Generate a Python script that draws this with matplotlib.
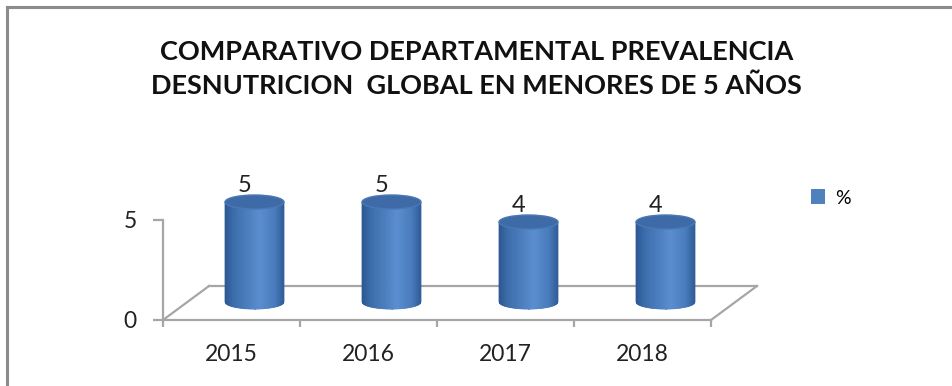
import numpy as np
import matplotlib
matplotlib.use("Agg")
import matplotlib.pyplot as plt
from matplotlib.colors import LinearSegmentedColormap
from matplotlib.patches import Polygon, Ellipse, Patch
from matplotlib.lines import Line2D
from matplotlib.transforms import IdentityTransform

plt.rcParams['font.family'] = ['Lato', 'DejaVu Sans']

# data
years = ['2015', '2016', '2017', '2018']
prevalence = [5, 5, 4, 4]
series_name = '%'
title = 'COMPARATIVO DEPARTAMENTAL PREVALENCIA\nDESNUTRICION  GLOBAL EN MENORES DE 5 AÑOS'

# look
grid_grey = '#A6A6A6'
frame_grey = '#8C8C8C'
depth = (46, 34)        # floor depth in pixels (right, up)
mid = (23, 18)          # bar sits halfway into the floor
ry = 7                  # vertical half-axis of the cylinder ellipses
bar_width = 0.43
shade = LinearSegmentedColormap.from_list(
    'cyl', [(0, '#2B5892'), (0.15, '#3C6DAB'), (0.6, '#5B8ED0'),
            (0.85, '#4A7CBD'), (1, '#2F5E98')])

fig = plt.figure(figsize=(9.53, 3.86), dpi=100)
ax = fig.add_axes([163 / 953, 66 / 386, 548 / 953, 100 / 386])
ax.set_xlim(-0.5, len(years) - 0.5)
ax.set_ylim(0, 5)

for s in ['top', 'right']:
    ax.spines[s].set_visible(False)
for s in ['left', 'bottom']:
    ax.spines[s].set_color(grid_grey)
    ax.spines[s].set_linewidth(1.6)

ax.set_yticks([0, 5])
ax.tick_params(axis='y', direction='out', length=7, width=1.6, color=grid_grey,
               labelsize=16.5, pad=12, labelcolor='#222222')
ax.set_xticks(np.arange(len(years) + 1) - 0.5)
ax.set_xticklabels([])
ax.set_xticks(np.arange(len(years)), minor=True)
ax.set_xticklabels(years, minor=True)
ax.tick_params(axis='x', which='major', direction='out', length=5, width=1.6, color=grid_grey)
ax.tick_params(axis='x', which='minor', length=0, labelsize=16.5, pad=17, labelcolor='#222222')

ident = IdentityTransform()
T = ax.transData.transform

# floor outline (back and side edges)
fl = T((-0.5, 0))
fr = T((len(years) - 0.5, 0))
bl = fl + depth
br = fr + depth
for p0, p1 in [(fl, bl), (bl, br), (br, fr)]:
    ax.add_line(Line2D([p0[0], p1[0]], [p0[1], p1[1]], transform=ident,
                       color=grid_grey, lw=1.6, clip_on=False, zorder=1))

# cylinders
for i, v in enumerate(prevalence):
    cx, cy0 = T((i, 0)) + mid
    _, cy1 = T((i, v)) + mid
    rx = (T((i + bar_width / 2, 0)) - T((i, 0)))[0]
    xs = np.linspace(cx - rx, cx + rx, 80)
    for a, b in zip(xs[:-1], xs[1:]):
        ya = cy0 - ry * np.sqrt(max(0.0, 1 - ((a - cx) / rx) ** 2))
        yb = cy0 - ry * np.sqrt(max(0.0, 1 - ((b - cx) / rx) ** 2))
        col = shade(((a + b) / 2 - (cx - rx)) / (2 * rx))
        ax.add_patch(Polygon([(a, ya), (b, yb), (b, cy1), (a, cy1)], closed=True,
                             transform=ident, facecolor=col, edgecolor=col,
                             lw=0.6, clip_on=False, zorder=3))
    ax.add_patch(Ellipse((cx, cy1), 2 * rx, 2 * ry, transform=ident,
                         facecolor='#3E6BA7', edgecolor='#4A78B4', lw=1.0,
                         clip_on=False, zorder=4))
    ax.annotate(f'{v:.0f}', xy=(i, v), xytext=(mid[0] - 10, mid[1] + 10),
                textcoords='offset pixels', ha='center', va='baseline',
                fontsize=17, color='#222222', zorder=5)

fig.text(0.5, 1 - 69 / 386, title, ha='center', va='center', fontsize=19.5,
         fontweight='bold', linespacing=1.5, color='#111111')

fig.legend(handles=[Patch(facecolor='#4F81BD')], labels=[series_name],
           loc='center left', bbox_to_anchor=(801 / 953, 1 - 198 / 386),
           frameon=False, fontsize=14, handlelength=0.75, handleheight=0.8,
           handletextpad=0.5, borderpad=0)

# chart area border (only the top and left edges are in view)
fig.add_artist(Line2D([7 / 953, 7 / 953], [0, 1 - 7 / 386], color=frame_grey, lw=2.2))
fig.add_artist(Line2D([7 / 953, 1], [1 - 7 / 386, 1 - 7 / 386], color=frame_grey, lw=2.2))

fig.savefig('out.png', dpi=100)
